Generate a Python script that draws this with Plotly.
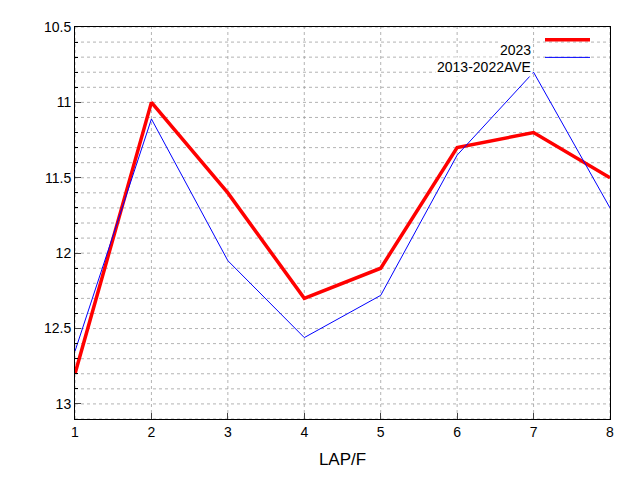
import plotly.graph_objects as go

laps = [1, 2, 3, 4, 5, 6, 7, 8]
s2023 = [12.8, 11.0, 11.6, 12.3, 12.1, 11.3, 11.2, 11.5]
s_ave = [12.65, 11.11, 12.05, 12.56, 12.28, 11.35, 10.80, 11.70]
ytick_vals = [10.5, 11, 11.5, 12, 12.5, 13]
ytick_text = ["10.5", "11", "11.5", "12", "12.5", "13"]

fig = go.Figure()
fig.add_trace(go.Scatter(x=laps, y=s2023, mode="lines", line=dict(color="#ff0000", width=3.5), name="2023"))
fig.add_trace(go.Scatter(x=laps, y=s_ave, mode="lines", line=dict(color="#0000ff", width=1), name="2013-2022AVE"))

OFF = 8  # page body margin
W, H = 640 - OFF, 480 - OFF
l, r, t, b = 75 - OFF, 30, 19 - OFF, 61
def px(xp): return (xp - OFF - l) / (W - l - r)
def py(yp): return 1 - (yp - OFF - t) / (H - t - b)

shapes = []
for i in range(0, 27):
    v = round(10.5 + i * 0.1, 2)
    shapes.append(dict(type="line", xref="paper", x0=0, x1=1, yref="y", y0=v, y1=v,
                       line=dict(color="#a0a0a0", width=0.8, dash="dot"), layer="below"))
for xv in laps:
    shapes.append(dict(type="line", xref="x", x0=xv, x1=xv, yref="paper", y0=0, y1=1,
                       line=dict(color="#a0a0a0", width=0.8, dash="dot"), layer="below"))
shapes.append(dict(type="line", xref="paper", yref="paper", x0=px(545), x1=px(590), y0=py(32), y1=py(32),
                   line=dict(color="#ff0000", width=3.5)))
shapes.append(dict(type="line", xref="paper", yref="paper", x0=px(545), x1=px(590), y0=py(50), y1=py(50),
                   line=dict(color="#0000ff", width=1)))
annotations = [
    dict(xref="paper", yref="paper", x=px(533), y=py(32), text="2023", showarrow=False, xanchor="right",
         font=dict(size=14, color="black"), bgcolor="white"),
    dict(xref="paper", yref="paper", x=px(533), y=py(50), text="2013-2022AVE", showarrow=False, xanchor="right",
         font=dict(size=14, color="black"), bgcolor="white"),
]

fig.update_layout(
    width=W, height=H, margin=dict(l=l, r=r, t=t, b=b),
    paper_bgcolor="white", plot_bgcolor="white", showlegend=False,
    font=dict(family="Liberation Sans, Arial", size=14, color="black"),
    shapes=shapes, annotations=annotations,
    xaxis=dict(range=[1, 8], tickvals=laps, showgrid=False, zeroline=False, showline=True, mirror=True,
               linecolor="black", linewidth=1, ticks="inside", ticklen=6,
               title=dict(text="LAP/F", standoff=14)),
    yaxis=dict(range=[13.1, 10.5], tickvals=ytick_vals, ticktext=ytick_text, showgrid=False, zeroline=False,
               showline=True, mirror=True, linecolor="black", linewidth=1, ticks="inside", ticklen=6,
               minor=dict(dtick=0.1, ticks="inside", ticklen=3, tickcolor="black")),
)
fig.write_html("out.html")
